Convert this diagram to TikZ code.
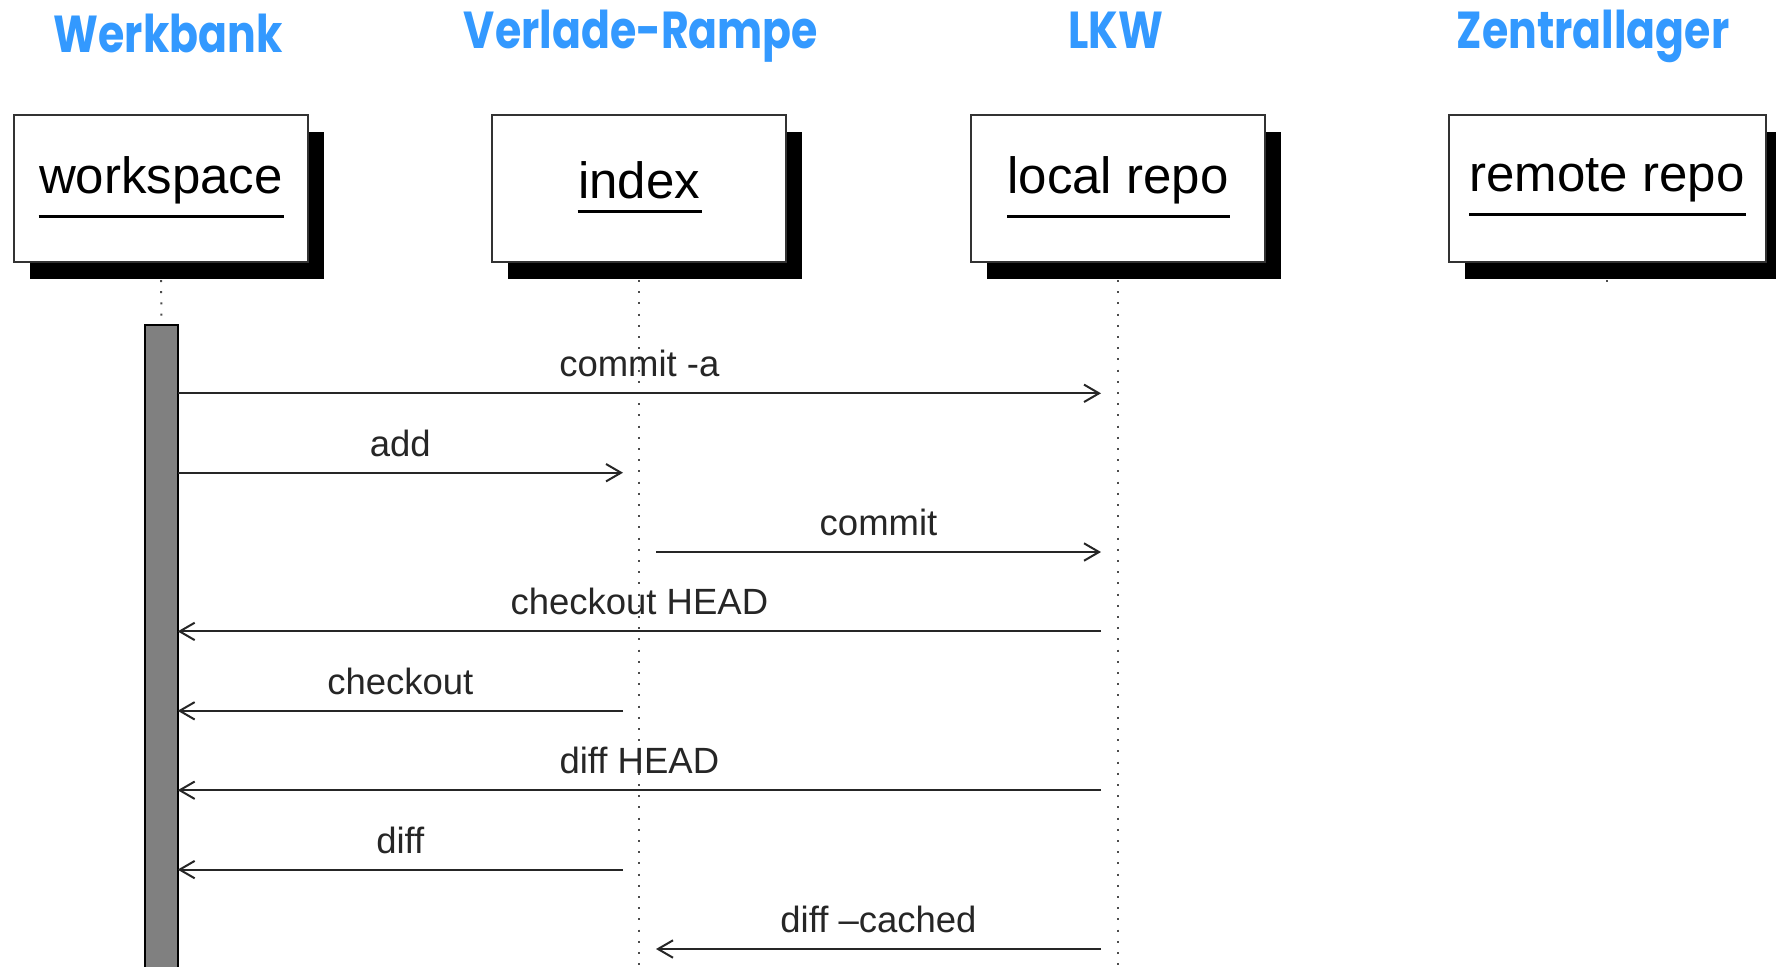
\documentclass[tikz,border=0pt]{standalone}
\usepackage{fontspec}
\setmainfont{Liberation Sans}
\newfontfamily\titlefont[FakeStretch=0.82]{Poppins}
\usetikzlibrary{arrows.meta,shadows}
\definecolor{titleblue}{RGB}{51,153,255}
\definecolor{barfill}{RGB}{128,128,128}

\begin{document}
\begin{tikzpicture}[x=0.5pt,y=-0.5pt,
  title/.style={font=\titlefont\bfseries\fontsize{26}{30}\selectfont, text=titleblue, anchor=base, inner sep=0},
  participant/.style={draw=black!80, line width=1pt, fill=white, minimum height=73.5pt, inner sep=0,
    drop shadow={shadow xshift=8pt, shadow yshift=-8.5pt, opacity=1, fill=black}},
  ptext/.style={font=\fontsize{25.5}{30}\selectfont, inner sep=0},
  underl/.style={line width=1.6pt},
  lifeline/.style={line width=1pt, black!70, dash pattern=on 1pt off 4.6pt},
  msg/.style={line width=1pt, black!85, -{Straight Barb[length=7.5pt,width=8.7pt]}},
  msglabel/.style={font=\fontsize{18.25}{22}\selectfont, anchor=base, inner sep=0, yshift=8.25pt},
  activation/.style={draw=black, line width=1pt, fill=barfill, inner sep=0}
]
\useasboundingbox (0,0) rectangle (1776,966);

% titles
\node[title] (tWerk) at (168,52) {Werkbank};
\node[title] (tRamp) at (641,48) {Verlade-Rampe};
\node[title] (tLkw)  at (1116,48) {LKW};
\node[title] (tZent) at (1593,48) {Zentrallager};

% participant boxes
\node[participant, minimum width=147pt]   (ws)  at (161,188.5)  {};
\node[participant, minimum width=147pt]   (idx) at (639,188.5)  {};
\node[participant, minimum width=147pt]   (loc) at (1118,188.5) {};
\node[participant, minimum width=158.5pt] (rem) at (1607,188.5) {};

% participant names, underlined
\node[ptext] (wsT)  at (161,180)  {workspace};
\node[ptext] (idxT) at (639,180)  {index};
\node[ptext] (locT) at (1118,180) {local repo};
\node[ptext] (remT) at (1607,180) {remote repo};
\foreach \t in {wsT,idxT,locT,remT}
  \draw[underl] ([yshift=-6.3pt]\t.south west) -- ([yshift=-6.3pt,xshift=0.6pt]\t.south east);

% activation bar of the workspace
\node[activation, anchor=north, minimum width=16.2pt, minimum height=323pt] (bar) at (161.5,324) {};

% lifelines
\draw[lifeline] ([yshift=-8.5pt]ws.south) -- (bar.north);
\coordinate (idxEnd) at (639,966);
\coordinate (locEnd) at (1118,966);
\coordinate (remEnd) at (1607,286);
\draw[lifeline] ([yshift=-8.5pt]idx.south) -- (idxEnd);
\draw[lifeline] ([yshift=-8.5pt]loc.south) -- (locEnd);
\draw[lifeline] ([yshift=-8.5pt]rem.south) -- (remEnd);

% message end points
\coordinate (m1a) at (177.7,393.3); \coordinate (m1b) at (1101,393.3);
\coordinate (m2a) at (177.7,472.7); \coordinate (m2b) at (623,472.7);
\coordinate (m3a) at (656,552);     \coordinate (m3b) at (1101,552);
\coordinate (m4a) at (1101,631.4);  \coordinate (m4b) at (177.7,631.4);
\coordinate (m5a) at (623,710.8);   \coordinate (m5b) at (177.7,710.8);
\coordinate (m6a) at (1101,790.2);  \coordinate (m6b) at (177.7,790.2);
\coordinate (m7a) at (623,869.6);   \coordinate (m7b) at (177.7,869.6);
\coordinate (m8a) at (1101,949);    \coordinate (m8b) at (656,949);

% messages
\draw[msg] (m1a) -- node[msglabel] (l1) {commit -a} (m1b);
\draw[msg] (m2a) -- node[msglabel] (l2) {add} (m2b);
\draw[msg] (m3a) -- node[msglabel] (l3) {commit} (m3b);
\draw[msg] (m4a) -- node[msglabel] (l4) {checkout HEAD} (m4b);
\draw[msg] (m5a) -- node[msglabel] (l5) {checkout} (m5b);
\draw[msg] (m6a) -- node[msglabel] (l6) {diff HEAD} (m6b);
\draw[msg] (m7a) -- node[msglabel] (l7) {diff} (m7b);
\draw[msg] (m8a) -- node[msglabel] (l8) {diff –cached} (m8b);
\end{tikzpicture}
\end{document}
